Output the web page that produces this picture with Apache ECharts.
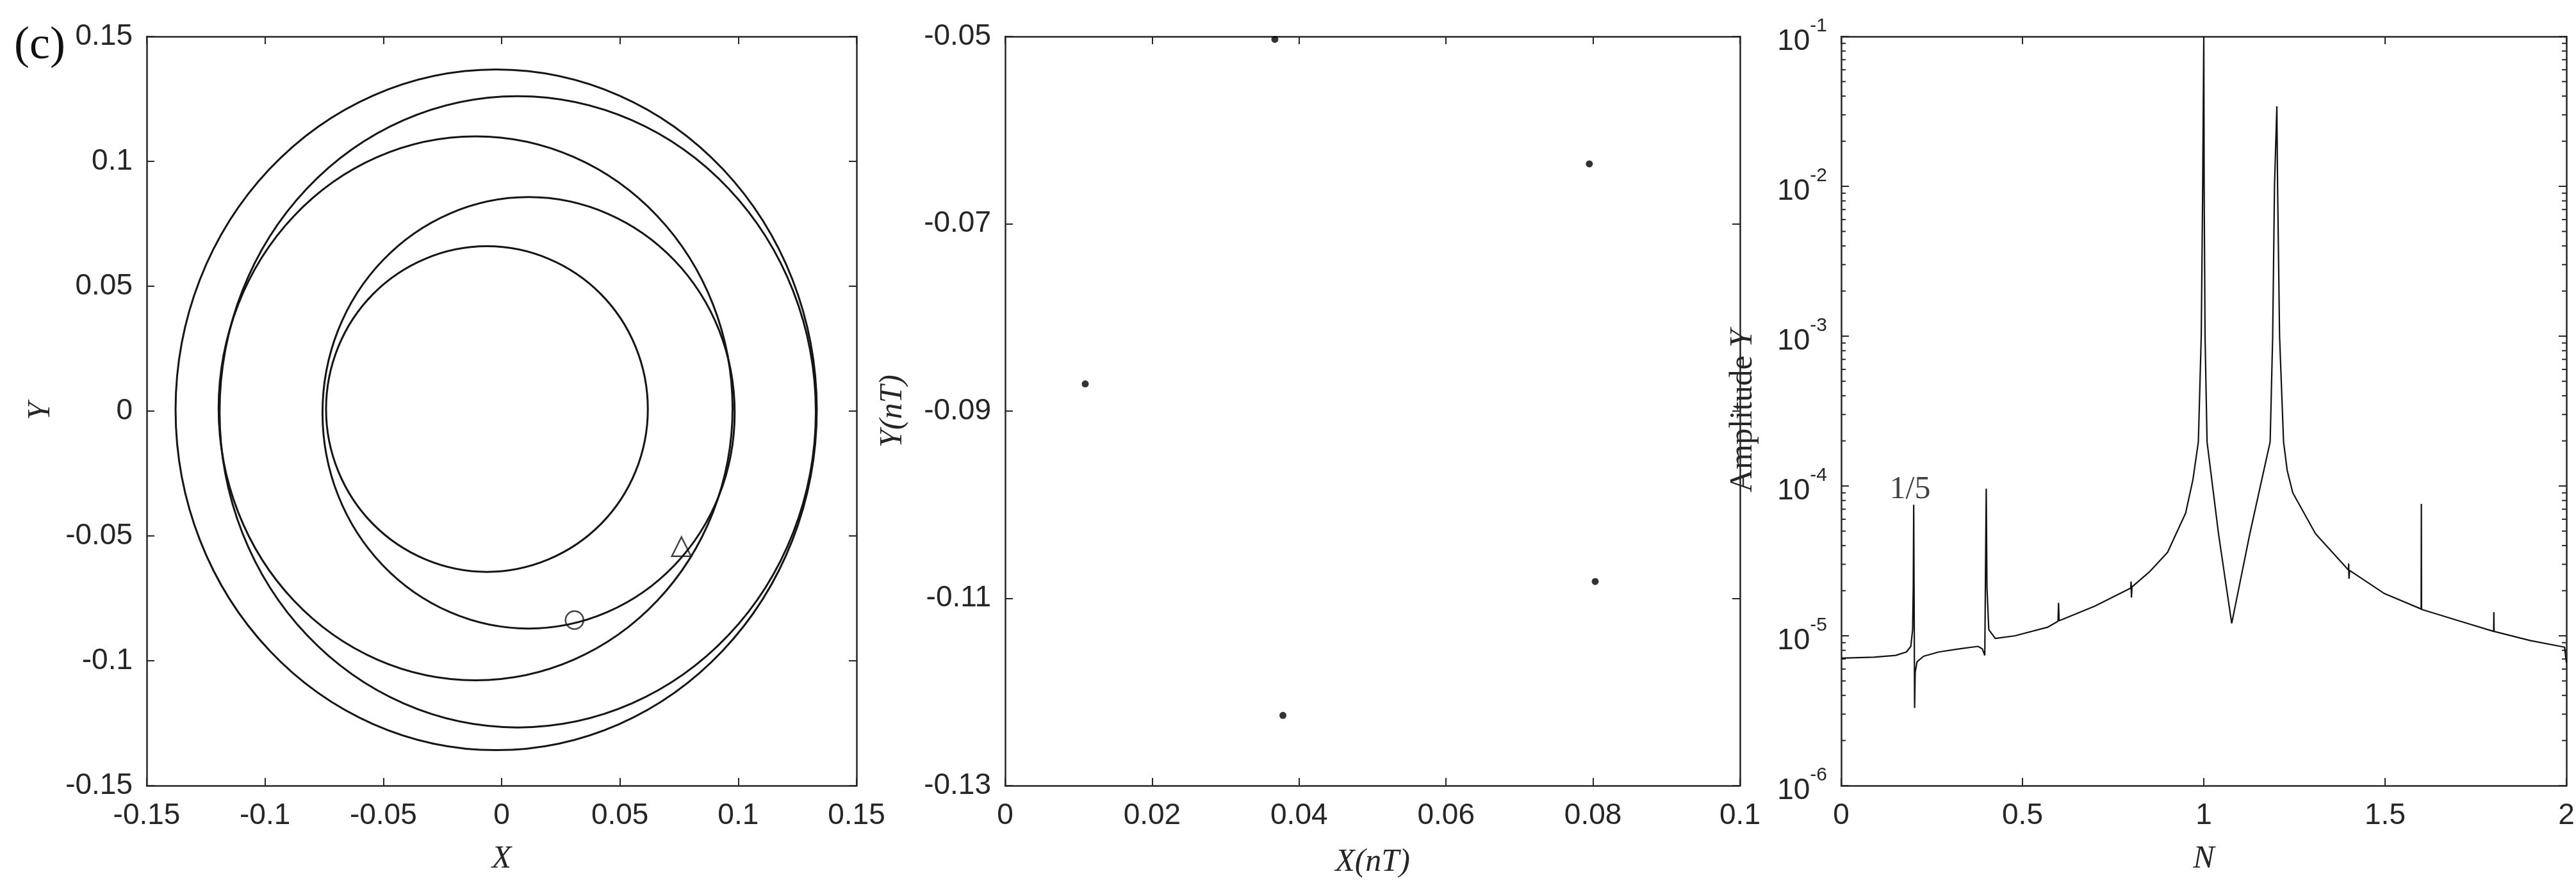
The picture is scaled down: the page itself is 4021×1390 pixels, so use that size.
<!DOCTYPE html>
<html><head><meta charset="utf-8">
<script src="https://cdn.jsdelivr.net/npm/echarts/dist/echarts.min.js"></script>
<style>html,body{margin:0;padding:0;background:#fff}#c{width:4021px;height:1390px}</style>
</head><body><div id="c"></div>
<script>
// ---------- Panel 1: phase trajectory (five loops of the period-5 orbit) ----------
const loop1 = [[0.1332,0.0005],[0.1229,0.0527],[0.0935,0.0969],[0.0496,0.1264],[-0.0023,0.1368],[-0.0542,0.1264],[-0.0981,0.0969],[-0.1275,0.0527],[-0.1378,0.0005],[-0.1275,-0.0517],[-0.0981,-0.0959],[-0.0542,-0.1254],[-0.0023,-0.1358],[0.0496,-0.1254],[0.0935,-0.0959],[0.1229,-0.0517]];
const loop2 = [[0.1328,-0.0003],[0.1232,0.0481],[0.0959,0.0891],[0.0550,0.1165],[0.0068,0.1261],[-0.0414,0.1165],[-0.0823,0.0891],[-0.1096,0.0481],[-0.1192,-0.0003],[-0.1096,-0.0487],[-0.0823,-0.0897],[-0.0414,-0.1171],[0.0068,-0.1267],[0.0550,-0.1171],[0.0959,-0.0897],[0.1232,-0.0487]];
const loop3 = [[0.0976,0.0011],[0.0893,0.0428],[0.0658,0.0781],[0.0306,0.1017],[-0.0110,0.1100],[-0.0526,0.1017],[-0.0878,0.0781],[-0.1113,0.0428],[-0.1196,0.0011],[-0.1113,-0.0406],[-0.0878,-0.0759],[-0.0526,-0.0995],[-0.0110,-0.1078],[0.0306,-0.0995],[0.0658,-0.0759],[0.0893,-0.0406]];
const loop4 = [[0.0985,-0.0007],[0.0919,0.0324],[0.0730,0.0604],[0.0447,0.0791],[0.0114,0.0857],[-0.0219,0.0791],[-0.0502,0.0604],[-0.0691,0.0324],[-0.0757,-0.0007],[-0.0691,-0.0338],[-0.0502,-0.0618],[-0.0219,-0.0805],[0.0114,-0.0871],[0.0447,-0.0805],[0.0730,-0.0618],[0.0919,-0.0338]];
const loop5 = [[0.0618,0.0008],[0.0566,0.0258],[0.0419,0.0469],[0.0198,0.0610],[-0.0062,0.0660],[-0.0322,0.0610],[-0.0543,0.0469],[-0.0690,0.0258],[-0.0742,0.0008],[-0.0690,-0.0242],[-0.0543,-0.0453],[-0.0322,-0.0594],[-0.0062,-0.0644],[0.0198,-0.0594],[0.0419,-0.0453],[0.0566,-0.0242]];
const markerCircle = [0.0308, -0.0837];
const markerTriangle = [0.076, -0.0543];
const p1Min = -0.15, p1Max = 0.15, p1Step = 0.05;

// ---------- Panel 2: Poincare section ----------
const poincareX = [0.0367, 0.0795, 0.0109, 0.0803, 0.0378];
const poincareY = [-0.0503, -0.0636, -0.0871, -0.1082, -0.1225];
const p2XMin = 0, p2XMax = 0.1, p2XStep = 0.02;
const p2YMin = -0.13, p2YMax = -0.05, p2YStep = 0.02;

// ---------- Panel 3: amplitude spectrum ----------
const specN = [0,0.09,0.15,0.18,0.192,0.197,0.1988,0.2,0.2025,0.204,0.209,0.227,0.269,0.329,0.377,0.389,0.396,0.399,0.4,0.402,0.407,0.425,0.479,0.569,0.598,0.5995,0.601,0.7,0.7985,0.7995,0.8005,0.802,0.85,0.9,0.95,0.97,0.985,0.993,0.997,1.0,1.001,1.0035,1.009,1.0406,1.077,1.127,1.183,1.19,1.195,1.2015,1.2035,1.209,1.22,1.23,1.2455,1.308,1.399,1.3995,1.4005,1.402,1.497,1.5995,1.6,1.6005,1.703,1.7995,1.8,1.8005,1.9,1.995,2.0];
const specAmp = [7.1e-6,7.2e-6,7.4e-6,7.8e-6,8.5e-6,1.1e-5,2.1e-5,7.5e-5,3.3e-6,5.7e-6,6.7e-6,7.3e-6,7.8e-6,8.2e-6,8.5e-6,8.2e-6,7.4e-6,7.3e-6,9.6e-5,2.1e-5,1.1e-5,9.6e-6,1.0e-5,1.14e-5,1.25e-5,1.66e-5,1.26e-5,1.58e-5,2.08e-5,2.3e-5,1.8e-5,2.12e-5,2.67e-5,3.6e-5,6.6e-5,1.1e-4,1.97e-4,1e-3,1e-2,0.1,1e-2,1e-3,1.97e-4,4.8e-5,1.21e-5,4.8e-5,1.97e-4,1e-3,1e-2,0.0342,1e-2,1e-3,1.97e-4,1.27e-4,9e-5,4.8e-5,2.75e-5,3.04e-5,2.4e-5,2.73e-5,1.92e-5,1.51e-5,7.6e-5,1.5e-5,1.26e-5,1.07e-5,1.44e-5,1.07e-5,9.3e-6,8.4e-6,6.6e-6];
const annotation = [0.19, 9.4e-5];
const annotationText = '1/5';
const p3XMin = 0, p3XMax = 2, p3XStep = 0.5;
const p3YMin = 1e-6, p3YMax = 1e-1;
const minorTickValues = [];
[-6,-5,-4,-3,-2].forEach(e => { [2,3,4,5,6,7,8,9].forEach(m => minorTickValues.push(m * Math.pow(10, e))); });

// ---------- styling ----------
const AX = '#262626';
const SANS = 'Liberation Sans, Arial, sans-serif';
const SERIF = 'Liberation Serif, Times New Roman, serif';
const fmt = v => String(+(+v).toFixed(4));

function xAx(gi, min, max, step, opts) {
  return Object.assign({
    type: 'value', gridIndex: gi, min, max, interval: step, position: 'bottom',
    axisLine: {show: true, onZero: false, lineStyle: {color: AX, width: 2.5}},
    axisTick: {show: true, inside: true, length: 12, lineStyle: {color: AX, width: 2}},
    axisLabel: {show: true, margin: 24, fontSize: 46, fontFamily: SANS, color: AX, formatter: fmt},
    splitLine: {show: false},
    nameLocation: 'middle', nameGap: 90,
    nameTextStyle: {fontSize: 50, fontFamily: SERIF, fontStyle: 'italic', color: AX}
  }, opts || {});
}
function topAx(gi, min, max, step) {
  return {type: 'value', gridIndex: gi, min, max, interval: step, position: 'top',
    axisLine: {show: true, onZero: false, lineStyle: {color: AX, width: 2.5}},
    axisTick: {show: true, inside: true, length: 12, lineStyle: {color: AX, width: 2}},
    axisLabel: {show: false}, splitLine: {show: false}};
}
function yAx(gi, min, max, step, opts) {
  return Object.assign({
    type: 'value', gridIndex: gi, min, max, interval: step, position: 'left',
    axisLine: {show: true, onZero: false, lineStyle: {color: AX, width: 2.5}},
    axisTick: {show: true, inside: true, length: 12, lineStyle: {color: AX, width: 2}},
    axisLabel: {show: true, margin: 22, fontSize: 46, fontFamily: SANS, color: AX, formatter: fmt},
    splitLine: {show: false},
    nameLocation: 'middle',
    nameTextStyle: {fontSize: 50, fontFamily: SERIF, fontStyle: 'italic', color: AX}
  }, opts || {});
}
function rightAx(gi, min, max, step, type) {
  const a = {type: type || 'value', gridIndex: gi, min, max, position: 'right',
    axisLine: {show: true, onZero: false, lineStyle: {color: AX, width: 2.5}},
    axisTick: {show: true, inside: true, length: 12, lineStyle: {color: AX, width: 2}},
    axisLabel: {show: false}, splitLine: {show: false}};
  if (step) a.interval = step;
  return a;
}

const chart = echarts.init(document.getElementById('c'), null, {renderer: 'canvas'});

const loops = [loop1, loop2, loop3, loop4, loop5];
// each loop is a closed smooth curve through its read points, positioned via the axes' scales
const series = loops.map((lp, i) => ({
  name: 'loop' + (i + 1), type: 'custom', xAxisIndex: 0, yAxisIndex: 0,
  data: lp, encode: {x: 0, y: 1}, silent: true, z: 3,
  renderItem: (params, api) => {
    if (params.dataIndex !== 0) return null;
    const pts = lp.map(p => api.coord(p));
    return {type: 'polygon', shape: {points: pts, smooth: 0.34},
      style: {fill: 'none', stroke: '#151515', lineWidth: 3}};
  }
}));
series.push({type: 'scatter', xAxisIndex: 0, yAxisIndex: 0, data: [markerCircle], symbol: 'circle', symbolSize: 28,
  itemStyle: {color: 'rgba(0,0,0,0)', borderColor: '#151515', borderWidth: 2.5}, z: 5, silent: true});
series.push({type: 'scatter', xAxisIndex: 0, yAxisIndex: 0, data: [markerTriangle], symbol: 'triangle', symbolSize: 30,
  itemStyle: {color: 'rgba(0,0,0,0)', borderColor: '#151515', borderWidth: 2.5}, z: 5, silent: true});
series.push({type: 'scatter', xAxisIndex: 2, yAxisIndex: 2, data: poincareX.map((x, i) => [x, poincareY[i]]),
  symbol: 'circle', symbolSize: 11, itemStyle: {color: '#000'}, clip: false, silent: true});
series.push({type: 'line', xAxisIndex: 4, yAxisIndex: 4, data: specN.map((n, i) => [n, specAmp[i]]),
  showSymbol: false, symbol: 'none', smooth: false, clip: true,
  lineStyle: {color: '#111', width: 2.2}, silent: true});
series.push({type: 'scatter', xAxisIndex: 4, yAxisIndex: 4, data: [annotation], symbolSize: 0, silent: true,
  label: {show: true, position: 'inside', formatter: annotationText, fontSize: 50, fontFamily: SERIF, color: '#111'}});
series.push({type: 'custom', xAxisIndex: 4, yAxisIndex: 4, silent: true, clip: false,
  data: minorTickValues.map(v => [p3XMin, v]), encode: {x: 0, y: 1},
  renderItem: (params, api) => {
    const v = api.value(1);
    const l = api.coord([p3XMin, v]), r = api.coord([p3XMax, v]);
    return {type: 'group', children: [
      {type: 'line', shape: {x1: l[0], y1: l[1], x2: l[0] + 7, y2: l[1]}, style: {stroke: AX, lineWidth: 2}},
      {type: 'line', shape: {x1: r[0], y1: r[1], x2: r[0] - 7, y2: r[1]}, style: {stroke: AX, lineWidth: 2}}
    ]};
  }});

const logFmt = v => '{b|10}{s|' + Math.round(Math.log10(v)) + '}';
const logRich = {b: {fontSize: 46, fontFamily: SANS, color: AX, padding: [16, 0, 0, 0]},
                 s: {fontSize: 30, fontFamily: SANS, color: AX, verticalAlign: 'top'}};

chart.setOption({
  animation: false,
  backgroundColor: '#fff',
  grid: [
    {left: 229, top: 57, width: 1108, height: 1170, outerBoundsMode: 'none'},
    {left: 1569, top: 57, width: 1147, height: 1170, outerBoundsMode: 'none'},
    {left: 2874, top: 57, width: 1132, height: 1170, outerBoundsMode: 'none'}
  ],
  xAxis: [
    xAx(0, p1Min, p1Max, p1Step, {name: 'X'}),
    topAx(0, p1Min, p1Max, p1Step),
    xAx(1, p2XMin, p2XMax, p2XStep, {name: 'X(nT)', nameGap: 95}),
    topAx(1, p2XMin, p2XMax, p2XStep),
    xAx(2, p3XMin, p3XMax, p3XStep, {name: 'N'}),
    topAx(2, p3XMin, p3XMax, p3XStep)
  ],
  yAxis: [
    yAx(0, p1Min, p1Max, p1Step, {name: 'Y', nameGap: 140}),
    rightAx(0, p1Min, p1Max, p1Step),
    yAx(1, p2YMin, p2YMax, p2YStep, {name: 'Y(nT)', nameGap: 150,
      axisLabel: {show: true, margin: 22, fontSize: 46, fontFamily: SANS, color: AX, formatter: v => (+v).toFixed(2)}}),
    rightAx(1, p2YMin, p2YMax, p2YStep),
    yAx(2, p3YMin, p3YMax, null, {type: 'log', logBase: 10, interval: undefined,
      name: '{a|Amplitude }{i|Y}', nameGap: 128,
      nameTextStyle: {fontSize: 50, fontFamily: SERIF, color: AX,
        rich: {a: {fontSize: 50, fontFamily: SERIF, color: AX}, i: {fontSize: 50, fontFamily: SERIF, fontStyle: 'italic', color: AX}}},
      axisLabel: {show: true, margin: 22, formatter: logFmt, rich: logRich}}),
    rightAx(2, p3YMin, p3YMax, null, 'log')
  ],
  graphic: [
    {type: 'text', left: 22, top: 36, style: {text: '(c)', font: '72px ' + SERIF, fill: '#111'}}
  ],
  series
});
</script></body></html>
